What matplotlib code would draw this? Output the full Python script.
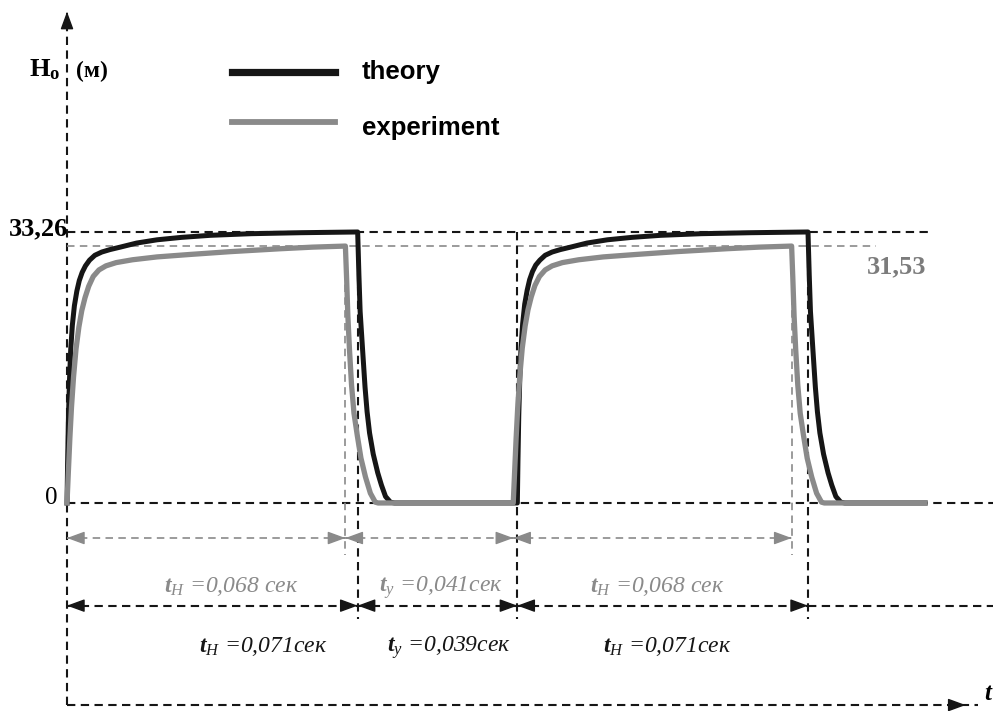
import matplotlib
matplotlib.use("Agg")
import matplotlib.pyplot as plt
from matplotlib.lines import Line2D
import numpy as np

# phase durations, ms
T_PUMP_THEORY = 71
T_PAUSE_THEORY = 39
T_PUMP_EXP = 68
T_PAUSE_EXP = 41

# plateau heads, m
H_MAX_THEORY = 33.26
H_MAX_EXP = 31.53

# head vs time, two cycles (t in ms, H in m)
THEORY_T = [0, 0.15, 0.35, 0.6, 0.9, 1.3, 1.8, 2.4, 3.0, 3.7, 4.5, 5.5, 6.8, 8.5, 10.5, 13.0,
            17.0, 22.0, 28.0, 35.0, 45.0, 57.0, 71.0,
            71.3, 71.6, 72.2, 72.8, 73.3, 73.9, 74.8, 75.9, 76.8, 77.8, 79.0, 80.0,
            110.0, 110.15, 110.35, 110.6, 110.9, 111.3, 111.8, 112.4, 113.0, 113.7, 114.5, 115.5,
            116.8, 118.5, 120.5, 123.0, 127.0, 132.0, 138.0, 145.0, 155.0, 167.0, 181.0,
            181.3, 181.6, 182.2, 182.8, 183.3, 183.9, 184.8, 185.9, 186.8, 187.8, 189.0, 190.0,
            209.6]
THEORY_H = [0, 5.0, 10.5, 15.0, 18.8, 21.8, 24.2, 26.0, 27.3, 28.3, 29.1, 29.8, 30.4, 30.8, 31.1, 31.4,
            31.9, 32.3, 32.6, 32.85, 33.05, 33.17, 33.26,
            28.0, 23.5, 18.8, 14.2, 11.2, 8.6, 6.0, 3.7, 2.2, 0.8, 0.1, 0.0,
            0.0, 5.2, 10.8, 15.3, 19.0, 22.0, 24.4, 26.1, 27.4, 28.4, 29.2, 29.8,
            30.4, 30.8, 31.1, 31.4, 31.9, 32.3, 32.6, 32.85, 33.05, 33.17, 33.26,
            28.0, 23.5, 18.8, 14.2, 11.2, 8.6, 6.0, 3.7, 2.2, 0.8, 0.1, 0.0,
            0.0]

EXP_T = [0, 0.3, 0.7, 1.1, 1.6, 2.2, 2.9, 3.6, 4.4, 5.3, 6.4, 7.8, 9.5, 12.0, 16.0, 22.0,
         30.0, 40.0, 52.0, 60.0, 68.0,
         68.3, 68.6, 69.0, 69.5, 70.1, 70.9, 71.8, 72.9, 74.1, 75.3, 76.0,
         109.0, 109.3, 109.7, 110.1, 110.6, 111.2, 111.9, 112.6, 113.4, 114.3, 115.4, 116.8,
         118.5, 121.0, 125.0, 131.0, 139.0, 149.0, 161.0, 169.0, 177.0,
         177.3, 177.6, 178.0, 178.5, 179.1, 179.9, 180.8, 181.9, 183.1, 184.3, 185.0,
         209.6]
EXP_H = [0, 3.5, 8.0, 11.8, 15.5, 18.9, 21.6, 23.6, 25.2, 26.6, 27.8, 28.6, 29.1, 29.5, 29.85, 30.2,
         30.5, 30.85, 31.2, 31.4, 31.53,
         27.5, 23.0, 18.8, 14.5, 11.0, 8.3, 5.5, 3.2, 1.2, 0.1, 0.0,
         0.0, 3.4, 7.9, 11.8, 15.6, 19.0, 21.7, 23.7, 25.3, 26.7, 27.8, 28.6,
         29.1, 29.5, 29.85, 30.2, 30.5, 30.85, 31.2, 31.4, 31.53,
         27.5, 23.0, 18.8, 14.5, 11.0, 8.3, 5.5, 3.2, 1.2, 0.1, 0.0,
         0.0]

LABELS_EXP = ["=0,068 сек", "=0,041сек", "=0,068 сек"]
LABELS_THEORY = ["=0,071сек", "=0,039сек", "=0,071сек"]
SUBS = ["Н", "у", "Н"]

# layout (ms / m)
X_LO, X_HI = -16.37, 226.19
Y_LO, Y_HI = -25.53, 61.73
ROW_EXP, ROW_THEORY, AXIS_Y = -4.3, -12.6, -24.8
TXT_EXP_X, TXT_EXP_Y = [40.1, 91.4, 144.1], -10.9
TXT_TH_X, TXT_TH_Y = [47.9, 93.3, 146.6], -18.3

BLACK = "#161616"
GREY = "#8a8a8a"
SERIF = "Liberation Serif"

plt.rcParams["mathtext.fontset"] = "custom"
plt.rcParams["mathtext.rm"] = "Liberation Serif:italic"
plt.rcParams["mathtext.it"] = "Liberation Serif:italic"
plt.rcParams["mathtext.bf"] = "Liberation Serif:italic:bold"
plt.rcParams["mathtext.sf"] = "Liberation Serif:bold"

fig = plt.figure(figsize=(9.93, 7.11), dpi=100)
ax = fig.add_axes([0, 0, 1, 1])
ax.set_xlim(X_LO, X_HI)
ax.set_ylim(Y_LO, Y_HI)
ax.axis("off")

dash_k = dict(color=BLACK, lw=1.5, linestyle=(0, (4.0, 2.6)))
dash_g = dict(color=GREY, lw=1.2, linestyle=(0, (4.5, 3.2)))
head = "-|>,head_length=0.6,head_width=0.22"


def arrow_head(x_tip, y, direction, color, vertical=False):
    eps = 0.3 * direction
    if vertical:
        xy, xyt = (x_tip, y), (x_tip, y - eps)
    else:
        xy, xyt = (x_tip, y), (x_tip - eps, y)
    ax.annotate("", xy=xy, xytext=xyt,
                arrowprops=dict(arrowstyle=head, color=color, lw=1.0,
                                mutation_scale=18, shrinkA=0, shrinkB=0))


def dim_row(bounds, y, color, style):
    for a, b in zip(bounds[:-1], bounds[1:]):
        ax.plot([a, b], [y, y], **style)
        arrow_head(a, y, -1, color)
        arrow_head(b, y, 1, color)


# axes
ax.plot([0, 0], [AXIS_Y, 58.5], **dash_k)
arrow_head(0, 60.3, 1, BLACK, vertical=True)
ax.plot([0, 222.5], [AXIS_Y, AXIS_Y], **dash_k)
arrow_head(219.5, AXIS_Y, 1, BLACK)
ax.text(X_HI - 0.4, AXIS_Y + 0.6, "t", family=SERIF, fontsize=18, fontweight="bold",
        fontstyle="italic", ha="right", va="baseline")

# reference levels
ax.plot([0, X_HI], [0, 0], **dash_k)
ax.plot([0, 210.8], [H_MAX_THEORY, H_MAX_THEORY], **dash_k)
ax.plot([0, 197.6], [H_MAX_EXP, H_MAX_EXP], **dash_g)

# phase boundaries
th_bounds = np.cumsum([0, T_PUMP_THEORY, T_PAUSE_THEORY, T_PUMP_THEORY])
ex_bounds = np.cumsum([0, T_PUMP_EXP, T_PAUSE_EXP, T_PUMP_EXP])
for b in th_bounds[1:]:
    ax.plot([b, b], [H_MAX_THEORY, -14.2], **dash_k)
for b in (ex_bounds[1], ex_bounds[3]):
    ax.plot([b, b], [H_MAX_EXP, -6.4], **dash_g)

dim_row(ex_bounds, ROW_EXP, GREY, dash_g)
dim_row(th_bounds, ROW_THEORY, BLACK, dash_k)
ax.plot([th_bounds[-1], X_HI], [ROW_THEORY, ROW_THEORY], **dash_k)

# curves
ax.plot(THEORY_T, THEORY_H, color=BLACK, lw=3.6, solid_joinstyle="round", zorder=4)
ax.plot(EXP_T, EXP_H, color=GREY, lw=3.8, solid_joinstyle="round", zorder=5)

# value labels
ax.annotate("33,26", xy=(0, H_MAX_THEORY), xytext=(1, -2.2), textcoords="offset points",
            family=SERIF, fontsize=19, fontweight="bold", ha="right", va="baseline")
ax.annotate("0", xy=(0, 0), xytext=(-7, -1), textcoords="offset points",
            family=SERIF, fontsize=18, ha="right", va="baseline")
ax.annotate("31,53", xy=(197.6, H_MAX_EXP), xytext=(-6.5, -19.5), textcoords="offset points",
            family=SERIF, fontsize=19, fontweight="bold", color="#7c7c7c",
            ha="left", va="baseline")

ax.annotate(r"$\mathsf{H}_{\mathsf{o}}$", xy=(0, 52.3), xytext=(-5, 0), textcoords="offset points",
            family=SERIF, fontsize=19, ha="right", va="baseline")
ax.annotate("(м)", xy=(0, 52.3), xytext=(6.5, 0), textcoords="offset points",
            family=SERIF, fontsize=17, fontweight="bold", ha="left", va="baseline")

# duration labels
for x, sub, lab in zip(TXT_EXP_X, SUBS, LABELS_EXP):
    ax.text(x, TXT_EXP_Y, r"$\mathbf{t}_{\mathrm{%s}}$ %s" % (sub, lab), family=SERIF,
            fontstyle="italic", fontsize=17, color=GREY, ha="center", va="baseline")
for x, sub, lab in zip(TXT_TH_X, SUBS, LABELS_THEORY):
    ax.text(x, TXT_TH_Y, r"$\mathbf{t}_{\mathrm{%s}}$ %s" % (sub, lab), family=SERIF,
            fontstyle="italic", fontsize=17, color=BLACK, ha="center", va="baseline")

# legend
fig.add_artist(Line2D([0.2336, 0.3374], [0.8987, 0.8987], color=BLACK, lw=5.2))
fig.add_artist(Line2D([0.2336, 0.3374], [0.8284, 0.8284], color=GREY, lw=4.2))
fig.text(0.3646, 0.8987, "theory", family="Liberation Sans", fontweight="bold",
         fontsize=18.5, ha="left", va="center")
fig.text(0.3646, 0.8200, "experiment", family="Liberation Sans", fontweight="bold",
         fontsize=18.5, ha="left", va="center")

fig.savefig("out.png", dpi=100)
